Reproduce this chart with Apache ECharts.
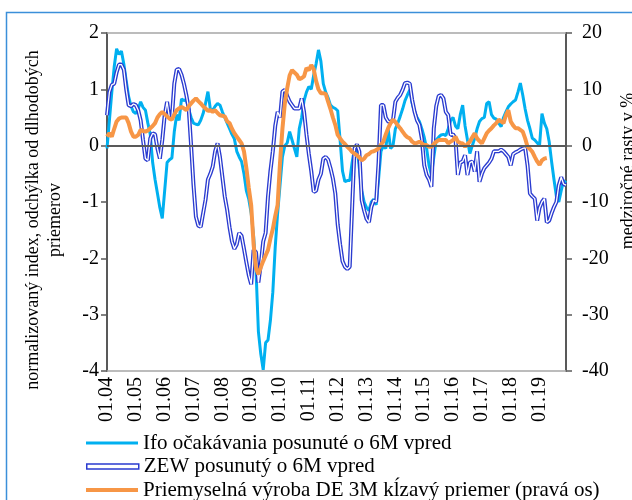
<!DOCTYPE html>
<html>
<head>
<meta charset="utf-8">
<script src="https://cdn.jsdelivr.net/npm/echarts@6/dist/echarts.min.js"></script>
<style>
html, body { margin: 0; padding: 0; background: #fff; }
#chart { width: 632px; height: 500px; }
</style>
</head>
<body>
<div id="chart"></div>
<script>
// monthly categories 01.04 ... 12.19
const months = [];
for (let y = 2004; y <= 2019; y++) {
    for (let m = 1; m <= 12; m++) {
        months.push((m < 10 ? '0' + m : '' + m) + '.' + String(y).slice(2));
    }
}

const seriesNames = [
    'Ifo očakávania posunuté o 6M vpred',
    'ZEW posunutý o 6M vpred',
    'Priemyselná výroba DE 3M kĺzavý priemer (pravá os)'
];

// Ifo expectations (left axis)
const ifo = [
    -0.05, 0.45, 0.95, 1.4, 1.72, 1.62, 1.68, 1.45, 1.15, 0.87, 0.7, 0.6,
    0.57, 0.66, 0.78, 0.68, 0.63, 0.4, 0.2, -0.3, -0.6, -0.85, -1.1, -1.29,
    -0.8, -0.3, -0.25, -0.22, 0.25, 0.55, 0.45, 0.83, 0.8, 0.82, 0.65, 0.5,
    0.4, 0.38, 0.37, 0.45, 0.57, 0.75, 0.96, 0.65, 0.63, 0.7, 0.75, 0.72,
    0.6, 0.5, 0.4, 0.3, 0.2, 0.12, -0.1, -0.2, -0.28, -0.5, -0.8, -0.95,
    -1.2, -1.6, -2.2, -3.3, -3.7, -3.98, -3.5, -3.45, -3.1, -2.6, -1.8, -1.2,
    -0.7, -0.2, 0.0, 0.05, 0.25, 0.1, -0.05, -0.2, 0.3, 0.5, 0.8, 0.95,
    1.05, 1.0, 1.25, 1.45, 1.7, 1.5, 1.1, 0.95, 0.85, 0.72, 0.68, 0.66,
    0.62, 0.1, -0.45, -0.64, -0.62, -0.62, -0.3, -0.05, 0.0, -0.4, -0.8, -1.0,
    -1.1, -1.15, -1.0, -0.95, -1.05, -0.6, -0.1, 0.0, -0.05, 0.3, -0.05, 0.0,
    0.3, 0.4, 0.52, 0.65, 0.8, 0.9, 0.99, 0.75, 0.6, 0.5, 0.43, 0.3,
    0.15, -0.05, -0.35, -0.52, -0.2, 0.1, 0.15, 0.19, 0.2, 0.18, 0.3, 0.45,
    0.5, 0.35, 0.3, 0.55, 0.72, 0.35, 0.1, -0.14, 0.0, 0.13, 0.3, 0.43,
    0.48, 0.5, 0.75, 0.78, 0.55, 0.49, 0.47, 0.4, 0.34, 0.5, 0.6, 0.69,
    0.74, 0.78, 0.81, 0.95, 1.11, 0.9, 0.65, 0.45, 0.3, 0.13, 0.1, 0.05,
    0.01, 0.57, 0.4, 0.3, 0.07, -0.28, -0.6, -0.9, -1.0, -0.8, -0.62, -0.66
];

// ZEW (left axis)
const zew = [
    0.54, 0.95, 1.08, 1.1, 1.3, 1.44, 1.44, 1.35, 1.0, 0.72, 0.7, 0.74,
    0.72, 0.63, 0.45, 0.1, -0.23, -0.26, 0.13, 0.22, 0.2, -0.05, -0.23, 0.1,
    0.54, 0.78, 0.49, 0.5, 1.1, 1.35, 1.36, 1.26, 1.1, 0.9, 0.66, 0.0,
    -0.7, -1.26, -1.42, -1.44, -1.2, -0.96, -0.6, -0.5, -0.37, -0.1, 0.04, -0.2,
    -0.55, -0.9, -1.14, -1.45, -1.7, -1.83, -1.75, -1.55, -1.6, -1.83, -2.07, -2.3,
    -2.46, -1.85, -1.89, -2.43, -2.1, -1.7, -1.55, -0.9, -0.45, -0.1, 0.35, 0.6,
    0.5, 0.96, 0.99, 0.88, 0.78, 0.72, 0.66, 0.66, 0.66, 0.84, 0.6, 0.2,
    -0.15, -0.45, -0.82, -0.8, -0.6, -0.5, -0.23, -0.2, -0.25, -0.4, -0.58, -0.85,
    -1.4, -1.75, -2.05, -2.15, -2.19, -2.15, -1.1, -0.05, 0.02, -0.1, -0.97, -1.15,
    -1.3, -1.36, -1.09, -0.97, -1.0, -0.3, 0.72, 0.72, 0.5, 0.43, 0.42, 0.45,
    0.78, 0.85, 0.9, 0.99, 1.11, 1.12, 1.1, 0.81, 0.6, 0.45, 0.37, 0.13,
    -0.35, -0.52, -0.6, -0.73, 0.31, 0.7, 0.88, 0.9, 0.84, 0.6, 0.54, 0.19,
    0.2, 0.13, -0.52, -0.3, -0.28, -0.17, -0.52, -0.3, -0.28, -0.46, -0.1, -0.64,
    -0.5, -0.4, -0.35, -0.3, -0.23, -0.1, -0.1, -0.1, -0.07, -0.1, -0.15, -0.2,
    -0.35, -0.15, -0.12, -0.1, -0.07, -0.05, -0.04, -0.35, -0.85, -0.9, -0.94, -1.33,
    -1.1, -1.0, -0.94, -1.36, -1.33, -1.2, -1.09, -1.0, -0.7, -0.56, -0.68, -0.7
];

// industrial production DE, y/y %, 3M moving average (right axis)
const ip = [
    1.6, 2.2, 1.6, 3.0, 4.3, 4.8, 5.0, 5.0, 5.0, 4.0, 2.5, 1.6,
    1.6, 1.9, 2.8, 2.6, 2.5, 2.7, 3.1, 3.5, 4.0, 5.0, 5.6, 6.0,
    5.6, 5.2, 4.8, 4.6, 5.5, 6.3, 6.6, 6.9, 6.6, 6.3, 7.0, 7.5,
    8.0, 8.4, 7.9, 7.5, 7.0, 6.6, 6.2, 6.3, 6.0, 6.3, 5.8, 5.4,
    5.3, 5.2, 4.3, 4.0, 3.0, 2.2, 1.6, 1.0, 0.4, -1.0, -4.0, -7.5,
    -10.6, -17.5, -21.8, -22.8, -21.6, -20.5, -19.5, -18.5, -16.5, -14.8, -12.5, -10.5,
    -3.0, 3.0, 7.5, 10.2, 12.5, 13.4, 13.0, 12.6, 11.8, 12.0, 12.3, 13.8,
    13.4, 14.3, 13.6, 11.5, 10.0, 9.3, 9.3, 9.2, 7.8, 6.5, 5.0, 3.7,
    1.9, 1.3, 0.7, 0.3, -0.2, -0.6, -1.1, -1.4, -1.7, -2.1, -2.6, -2.3,
    -1.7, -1.5, -1.1, -1.0, -0.8, -0.5, 0.2, 0.7, 2.0, 3.1, 4.0, 4.6,
    4.2, 3.6, 3.1, 2.5, 1.9, 1.5, 1.3, 0.7, 0.4, 0.5, 0.7, 0.4,
    0.1, 0.1, -0.2, -0.2, 0.3, 0.7, 1.0, 1.0, 1.0, 1.0, 0.4, 0.7,
    1.0, 1.6, 0.7, 0.5, 0.4, -0.2, 0.3, 0.7, 1.5, 2.2, 1.3, 0.8,
    0.4, 1.3, 2.2, 2.7, 3.1, 3.6, 4.0, 4.6, 4.3, 4.0, 5.4, 6.3,
    4.3, 3.6, 3.1, 3.1, 2.8, 2.5, 1.3, -0.2, -0.6, -1.1, -2.0, -2.8,
    -3.4, -2.6, -2.3, -2.2, null, null, null, null, null, null, null, null
];

const leftTicks = { min: -4, max: 2, interval: 1 };
const rightTicks = { min: -40, max: 20, interval: 10 };

const serif = "'Liberation Serif', 'Times New Roman', serif";
const cIfo = '#00b0f0';
const cZew = '#2a3bd0';
const cIp = '#f79646';

// one legend block per row, stacked like the Excel legend
const legendIcons = [
    { icon: 'path://M0,0H52V3H0Z', itemStyle: { color: cIfo, borderWidth: 0 } },
    { icon: 'path://M0,0H52V5H0Z', itemStyle: { color: '#fff', borderColor: cZew, borderWidth: 1.5 } },
    { icon: 'path://M0,0H52V4H0Z', itemStyle: { color: cIp, borderWidth: 0 } }
];
const legends = seriesNames.map(function (name, i) {
    return {
        left: 86,
        top: 432 + i * 23.5,
        padding: 0,
        itemWidth: 52,
        itemHeight: 6,
        symbolKeepAspect: true,
        textStyle: { fontFamily: serif, fontSize: 21, color: '#000', lineHeight: 22 },
        data: [Object.assign({ name: name }, legendIcons[i])]
    };
});

const chart = echarts.init(document.getElementById('chart'));
chart.setOption({
    animation: false,
    backgroundColor: '#fff',
    grid: { left: 107, right: 66, top: 33, bottom: 129 },
    legend: legends,
    xAxis: {
        type: 'category',
        data: months,
        boundaryGap: false,
        axisLine: { onZero: false, lineStyle: { color: '#a6a6a6', width: 1.5 } },
        axisTick: { show: false },
        axisLabel: {
            interval: 11,
            rotate: 90,
            margin: 6,
            fontFamily: serif,
            fontSize: 20,
            color: '#000'
        },
        splitLine: { show: false }
    },
    yAxis: [
        {
            type: 'value',
            min: leftTicks.min, max: leftTicks.max, interval: leftTicks.interval,
            axisLine: { show: true, lineStyle: { color: '#595959', width: 2 } },
            axisTick: { show: true, length: 6, lineStyle: { color: '#595959', width: 1.5 } },
            axisLabel: { margin: 8, fontFamily: serif, fontSize: 20, color: '#000' },
            splitLine: { show: false }
        },
        {
            type: 'value',
            position: 'right',
            min: rightTicks.min, max: rightTicks.max, interval: rightTicks.interval,
            axisLine: { show: true, lineStyle: { color: '#595959', width: 2 } },
            axisTick: { show: true, length: 6, lineStyle: { color: '#595959', width: 1.5 } },
            axisLabel: { margin: 16, fontFamily: serif, fontSize: 20, color: '#000' },
            splitLine: { show: false }
        }
    ],
    series: [
        {
            name: seriesNames[0],
            type: 'line',
            data: ifo,
            color: cIfo,
            showSymbol: false,
            lineStyle: { color: cIfo, width: 3 },
            markLine: {
                silent: true,
                symbol: 'none',
                label: { show: false },
                data: [
                    { yAxis: 0, lineStyle: { color: '#595959', width: 2, type: 'solid' } },
                    { yAxis: 2, lineStyle: { color: '#a6a6a6', width: 1.5, type: 'solid' } }
                ]
            }
        },
        {
            name: seriesNames[1],
            type: 'line',
            data: zew,
            color: cZew,
            showSymbol: false,
            lineStyle: { color: cZew, width: 4 }
        },
        {
            name: 'zew-inner',
            type: 'line',
            data: zew,
            showSymbol: false,
            lineStyle: { color: '#fff', width: 1.3 }
        },
        {
            name: seriesNames[2],
            type: 'line',
            yAxisIndex: 1,
            data: ip,
            color: cIp,
            showSymbol: false,
            lineStyle: { color: cIp, width: 4 }
        }
    ],
    graphic: [
        {
            type: 'rect',
            shape: { x: 6.5, y: 12.5, width: 700, height: 600 },
            style: { fill: 'none', stroke: '#3b8fd9', lineWidth: 1.5 },
            silent: true
        },
        {
            type: 'text',
            x: 33, y: 220,
            rotation: Math.PI / 2,
            style: {
                text: 'normalizovaný index, odchýlka od dlhodobých',
                fontFamily: serif, fontSize: 18, fill: '#000',
                align: 'center', verticalAlign: 'middle'
            }
        },
        {
            type: 'text',
            x: 55, y: 220,
            rotation: Math.PI / 2,
            style: {
                text: 'priemerov',
                fontFamily: serif, fontSize: 18, fill: '#000',
                align: 'center', verticalAlign: 'middle'
            }
        },
        {
            type: 'text',
            x: 628, y: 171,
            rotation: Math.PI / 2,
            style: {
                text: 'medziročné rasty v %',
                fontFamily: serif, fontSize: 18, fill: '#000',
                align: 'center', verticalAlign: 'middle'
            }
        }
    ]
});
</script>
</body>
</html>
